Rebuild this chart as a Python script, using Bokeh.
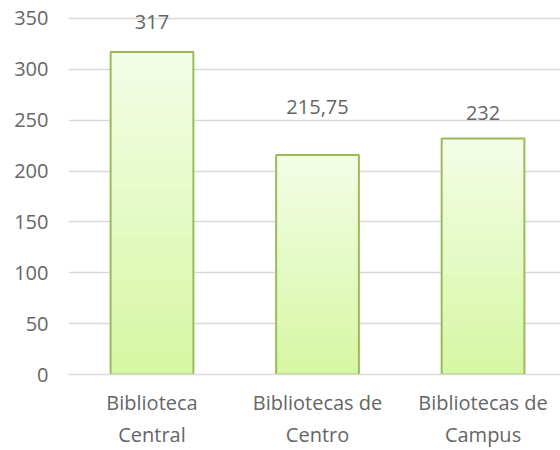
import numpy as np
from bokeh.plotting import figure
from bokeh.models import Range1d, FixedTicker, ColumnDataSource
from bokeh.core.properties import value
from bokeh.embed import file_html
from bokeh.resources import INLINE

# ---- data ----
categories = ["Biblioteca Central", "Bibliotecas de Centro", "Bibliotecas de Campus"]
tick_labels = ["Biblioteca\nCentral", "Bibliotecas de\nCentro", "Bibliotecas de\nCampus"]
values = [317, 215.75, 232]
value_labels = ["317", "215,75", "232"]
y_ticks = [0, 50, 100, 150, 200, 250, 300, 350]

# ---- styling ----
FONT = "Open Sans"
TEXT_COLOR = "#666666"
GRID_COLOR = "#d9d9d9"
BAR_LINE = "#9bbb59"
GRAD_BOTTOM = np.array([0xd6, 0xf7, 0xa3])
GRAD_TOP = np.array([0xf3, 0xfd, 0xe6])
label_offsets_px = [-30, -48, -25]
bar_width = 0.5
n_slices = 40

xs = list(range(len(categories)))

p = figure(width=560, height=450, output_backend="svg", toolbar_location=None,
           x_range=Range1d(-0.5045, 2.468), y_range=Range1d(0, 357.8),
           min_border_left=68, min_border_right=0, min_border_top=10,
           min_border_bottom=75)
p.outline_line_color = None
p.background_fill_color = "white"
p.border_fill_color = "white"

# gradient fill built from stacked slices of each bar
bx, bb, bt, bc = [], [], [], []
for x, v in zip(xs, values):
    for k in range(n_slices):
        t = k / (n_slices - 1)
        c = (GRAD_BOTTOM * (1 - t) + GRAD_TOP * t).round().astype(int)
        bx.append(x)
        bb.append(v * k / n_slices)
        bt.append(v * (k + 1) / n_slices)
        bc.append("#%02x%02x%02x" % tuple(c))
p.vbar(x=bx, bottom=bb, top=bt, width=bar_width, fill_color=bc, line_color=bc, line_width=1)

# outline
p.vbar(x=xs, top=values, width=bar_width, fill_color=None,
       line_color=BAR_LINE, line_width=2)

# value labels
src = ColumnDataSource(dict(x=xs, y=values, t=value_labels, off=label_offsets_px))
p.text(x="x", y="y", text="t", y_offset="off", source=src,
       text_align="center", text_baseline="middle",
       text_font=value(FONT), text_font_size="20px", text_color=TEXT_COLOR)

# axes
p.xaxis.ticker = FixedTicker(ticks=xs)
p.xaxis.major_label_overrides = {x: lab for x, lab in zip(xs, tick_labels)}
p.yaxis.ticker = FixedTicker(ticks=y_ticks)
for ax in (p.xaxis[0], p.yaxis[0]):
    ax.major_tick_line_color = None
    ax.minor_tick_line_color = None
    ax.major_label_text_font = FONT
    ax.major_label_text_font_size = "20px"
    ax.major_label_text_color = TEXT_COLOR
p.xaxis.axis_line_color = GRID_COLOR
p.xaxis.axis_line_width = 1.5
p.xaxis.major_label_standoff = 8
p.yaxis.axis_line_color = None
p.yaxis.major_label_standoff = 14

p.xgrid.grid_line_color = None
p.ygrid.grid_line_color = GRID_COLOR
p.ygrid.grid_line_width = 1.5

open("out.html", "w").write(file_html(p, INLINE))
